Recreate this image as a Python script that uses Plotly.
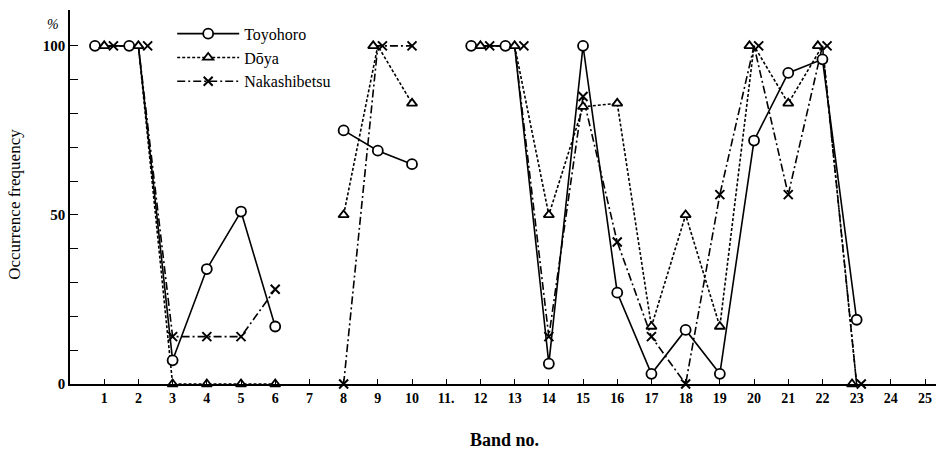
import plotly.graph_objects as go

# ---------------- data ----------------
bands = list(range(1, 26))
band_labels = ["1", "2", "3", "4", "5", "6", "7", "8", "9", "10", "11.", "12", "13",
               "14", "15", "16", "17", "18", "19", "20", "21", "22", "23", "24", "25"]
series_names = ["Toyohoro", "Dōya", "Nakashibetsu"]
toyohoro = [100, 100, 7, 34, 51, 17, None, 75, 69, 65, None, 100, 100,
            6, 100, 27, 3, 16, 3, 72, 92, 96, 19, None, None]
doya = [100, 100, 0, 0, 0, 0, None, 50, 100, 83, None, 100, 100,
        50, 82, 83, 17, 50, 17, 100, 83, 100, 0, None, None]
nakashibetsu = [100, 100, 14, 14, 14, 28, None, 0, 100, 100, None, 100, 100,
                14, 85, 42, 14, 0, 56, 100, 56, 100, 0, None, None]
y_ticks = list(range(0, 101, 10))
y_labels = ["0" if v == 0 else "50" if v == 50 else "100" if v == 100 else "" for v in y_ticks]

values = [toyohoro, doya, nakashibetsu]

# ---------------- styles ----------------
FONT = "Liberation Serif"
dashes = ["solid", "3px,2px", "8px,3px,2px,3px"]
symbols = ["circle", "triangle-up", "x-thin"]
msizes = [10, 9, 9]
SPREAD = 0.27  # horizontal spread of coinciding markers (as drawn in the original)

# markers with identical values at a band are drawn side by side
marker_x = [[], [], []]
for i, b in enumerate(bands):
    vals = [values[s][i] for s in range(3)]
    for s in range(3):
        v = vals[s]
        if v is None:
            marker_x[s].append(None)
            continue
        group = [k for k in range(3) if vals[k] == v]
        n = len(group)
        pos = group.index(s)
        marker_x[s].append(b + (pos - (n - 1) / 2) * SPREAD)


def marker_style(s):
    if symbols[s] == "x-thin":
        return dict(symbol="x-thin", size=msizes[s], color="black",
                    line=dict(color="black", width=2))
    return dict(symbol=symbols[s], size=msizes[s], color="white",
                line=dict(color="black", width=1.8))


fig = go.Figure()

# lines (at true band positions)
for s in range(3):
    fig.add_trace(go.Scatter(
        x=bands, y=values[s], mode="lines", connectgaps=False,
        line=dict(color="black", width=1.6, dash=dashes[s]),
        showlegend=False, hoverinfo="skip", cliponaxis=False))

# markers
for s in range(3):
    fig.add_trace(go.Scatter(
        x=marker_x[s], y=values[s], mode="markers", marker=marker_style(s),
        showlegend=False, cliponaxis=False, name=series_names[s]))

# legend entries
for s in range(3):
    fig.add_trace(go.Scatter(
        x=[None], y=[None], mode="lines+markers", name=series_names[s],
        line=dict(color="black", width=1.6, dash=dashes[s]), marker=marker_style(s)))

fig.update_layout(
    width=936, height=452,
    margin=dict(l=70, r=0, t=10, b=68),
    paper_bgcolor="white", plot_bgcolor="white",
    font=dict(family=FONT, color="black", size=14),
    showlegend=True,
    legend=dict(x=0.118, y=0.982, xanchor="left", yanchor="top",
                bgcolor="rgba(0,0,0,0)", font=dict(family=FONT, size=16, color="black"),
                itemwidth=62, tracegroupgap=0),
    xaxis=dict(range=[0, 25.32], tickmode="array", tickvals=bands, ticktext=band_labels,
               ticks="inside", ticklen=5, tickwidth=1.3, tickcolor="black",
               showline=True, linecolor="black", linewidth=1.6, showgrid=False, zeroline=False,
               tickfont=dict(family=FONT, size=14, color="black", weight="bold")),
    yaxis=dict(range=[0, 110.6], tickmode="array", tickvals=y_ticks, ticktext=y_labels,
               ticks="inside", ticklen=8, tickwidth=1.3, tickcolor="black",
               showline=True, linecolor="black", linewidth=1.6, showgrid=False, zeroline=False,
               tickfont=dict(family=FONT, size=15, color="black", weight="bold")),
)

fig.add_annotation(text="Occurrence frequency", xref="paper", yref="paper",
                   x=-0.0635, y=0.479, xanchor="center", yanchor="middle", textangle=-90,
                   showarrow=False, font=dict(family=FONT, size=17, color="black"))
fig.add_annotation(text="<i>%</i>", xref="paper", yref="paper",
                   x=-0.0196, y=0.96, xanchor="center", yanchor="middle",
                   showarrow=False, font=dict(family=FONT, size=14, color="black"))
fig.add_annotation(text="<b>Band no.</b>", xref="paper", yref="paper",
                   x=0.502, y=-0.15, xanchor="center", yanchor="middle",
                   showarrow=False, font=dict(family=FONT, size=18, color="black"))

fig.write_html("out.html", config={"displayModeBar": False},
               post_script="document.body.style.margin='0';document.body.style.overflow='hidden';")
